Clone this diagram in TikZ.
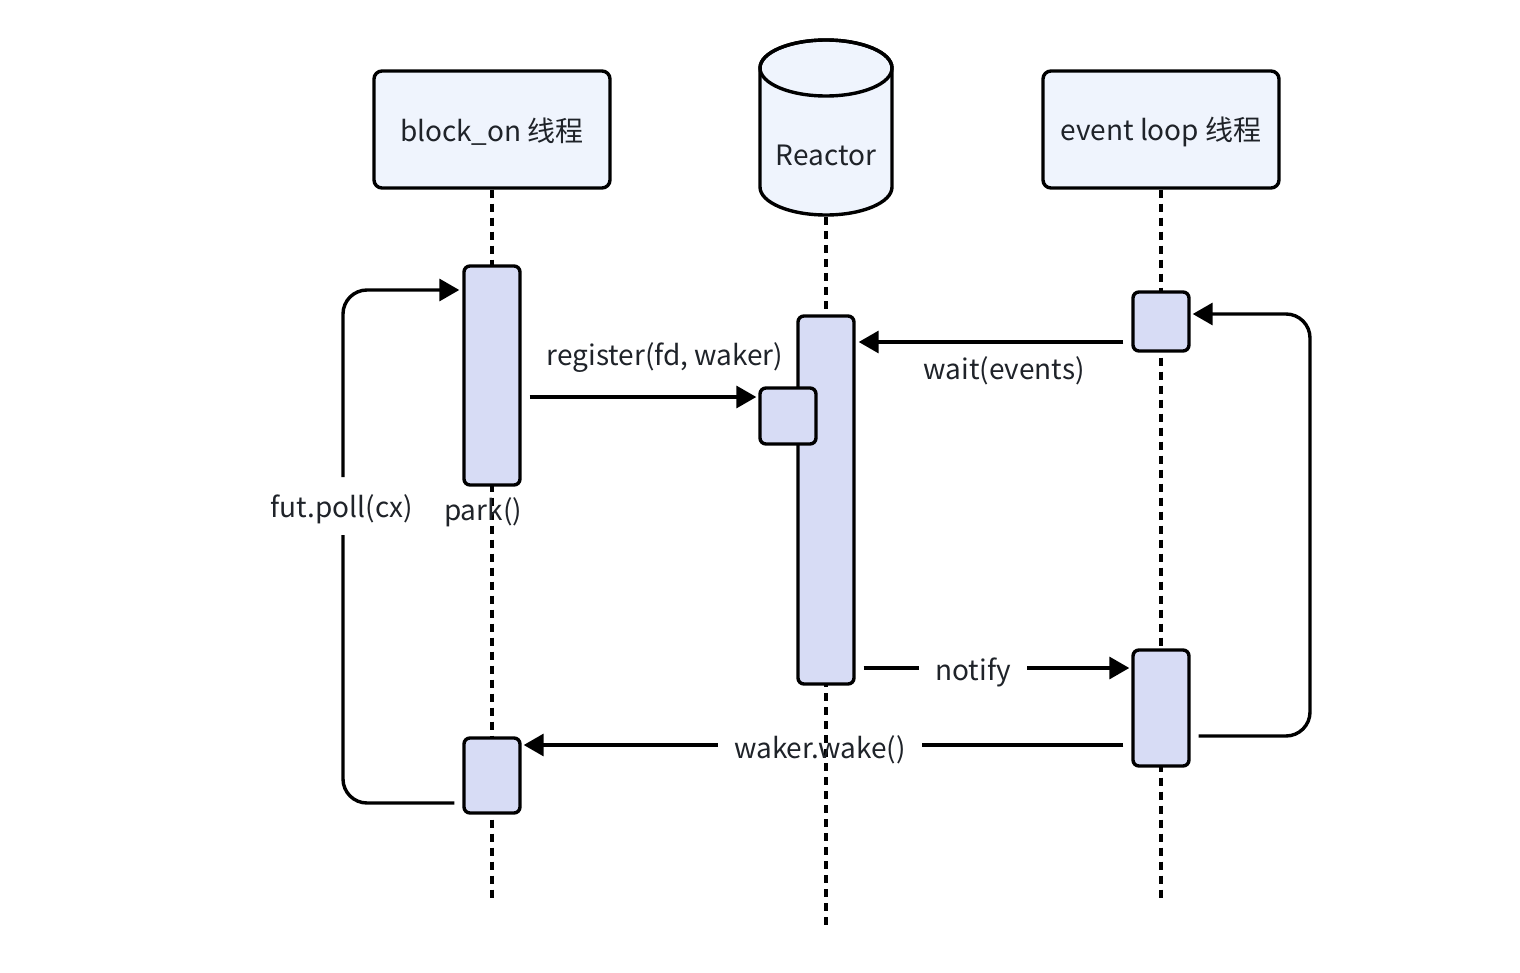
\documentclass[tikz,border=0pt]{standalone}
\usepackage{fontspec}
\newfontfamily\cjk{Noto Sans CJK SC}
\usetikzlibrary{arrows.meta}
\definecolor{hdrfill}{HTML}{EFF4FD}
\definecolor{actfill}{HTML}{D7DCF5}
\definecolor{txt}{HTML}{1F2329}
\begin{document}
\begin{tikzpicture}[x=0.5pt,y=-0.5pt,
  every node/.style={font=\cjk\fontsize{14pt}{16pt}\selectfont, text=txt},
  hdr/.style={draw=black, line width=1.7pt, fill=hdrfill, rounded corners=4pt, minimum width=118pt, minimum height=58.5pt, inner sep=0pt},
  act/.style={draw=black, line width=1.7pt, fill=actfill, rounded corners=3pt, minimum width=28pt, inner sep=0pt},
  life/.style={line width=1.8pt, dash pattern=on 4pt off 3pt},
  conn/.style={line width=1.7pt, rounded corners=12pt},
  arr/.style={conn, -{Triangle[length=10pt,width=11pt]}},
  lbl/.style={inner xsep=8pt, inner ysep=2pt}
]
\useasboundingbox (0,0) rectangle (1520,973);

% lifelines
\coordinate (l1end) at (492,898);
\coordinate (l2end) at (826,928);
\coordinate (l3end) at (1161,898);

% headers
\node[hdr] (hb) at (492,129.5) {};
\node (hbtext) at (492,132) {block\_on 线程};
\node[hdr] (he) at (1161,129.5) {};
\node (hetext) at (1161,132) {event loop 线程};
% Reactor cylinder
\draw[line width=1.7pt, fill=hdrfill] (760,68) -- (760,187) arc[start angle=180, end angle=360, x radius=33pt, y radius=14pt] -- (892,68) arc[start angle=0, end angle=180, x radius=33pt, y radius=14pt] -- cycle;
\draw[line width=1.7pt] (826,68) ellipse[x radius=33pt, y radius=14pt];
\node (reactor) at (826,155) {Reactor};
\coordinate (rbot) at (826,217);

\draw[life] (hb.south) -- (l1end);
\draw[life] (rbot) -- (l2end);
\draw[life] (he.south) -- (l3end);

% activations
\node[act, minimum height=109.5pt] (a1) at (492,375.5) {};
\node[act, minimum height=184pt] (ract) at (826,500) {};
\node[act, minimum width=28pt, minimum height=28pt] (rsmall) at (788,416) {};
\node[act, minimum height=29.5pt] (e1) at (1161,321.5) {};
\node[act, minimum height=58pt] (e2) at (1161,708) {};
\node[act, minimum height=37.5pt] (b2) at (492,775.5) {};

% labels
\node (lpoll) at (342,509) {fut.poll(cx)};
\node (lpark) at (483,512) {park()};
\node (lreg) at (665,358) {register(fd, waker)};
\node (lwait) at (1004,371) {wait(events)};
\node[lbl] (lnotify) at (973,672) {notify};
\node[lbl] (lwake) at (820,750) {waker.wake()};

% register
\draw[arr] ([xshift=4pt]a1.east |- 0,397) -- ([xshift=-1pt]rsmall.west |- 0,397);
% wait(events)
\draw[arr] ([xshift=-4pt]e1.west |- 0,342) -- ([xshift=1.5pt]ract.east |- 0,342);
% notify
\draw[conn] ([xshift=4pt]ract.east |- 0,668) -- (lnotify.west |- 0,668);
\draw[arr] (lnotify.east |- 0,668) -- ([xshift=-1pt]e2.west |- 0,668);
% waker.wake()
\draw[conn] ([xshift=-4pt]e2.west |- 0,745) -- (lwake.east |- 0,745);
\draw[arr] (lwake.west |- 0,745) -- ([xshift=1pt]b2.east |- 0,745);
% fut.poll loop
\draw[conn] ([xshift=-4pt]b2.west |- 0,803) -- (343,803) -- (343,535);
\draw[arr] (343,477) -- (343,290) -- ([xshift=-1.5pt]a1.west |- 0,290);
% event loop back
\draw[arr] ([xshift=4pt]e2.east |- 0,736) -- (1310,736) -- (1310,314) -- ([xshift=1pt]e1.east |- 0,314);
\end{tikzpicture}
\end{document}
